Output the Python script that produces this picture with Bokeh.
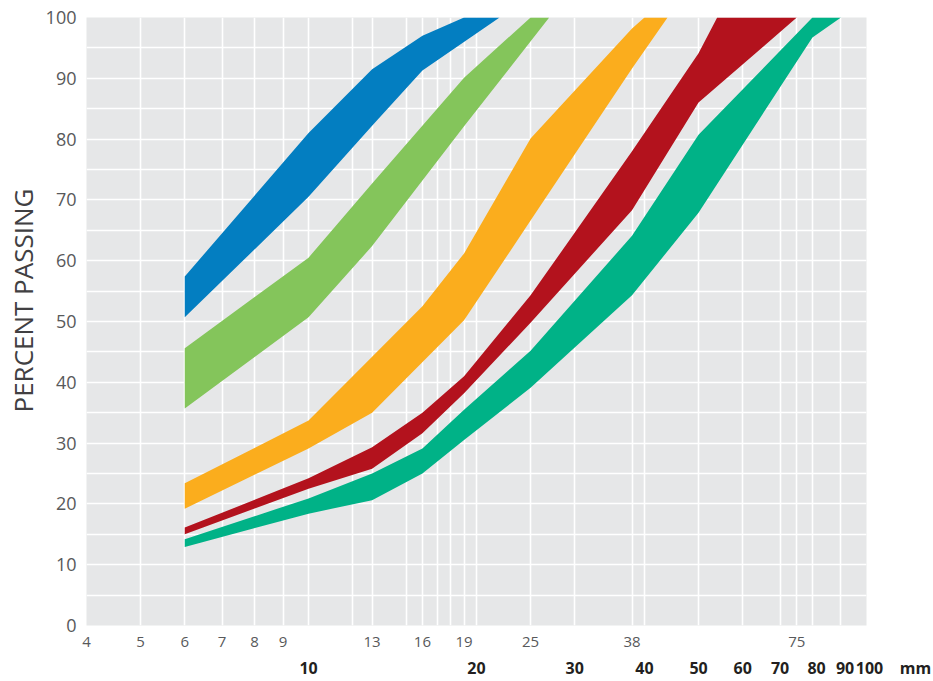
from bokeh.plotting import figure
from bokeh.models import Range1d, FixedTicker, LogAxis, PrintfTickFormatter, Title
from bokeh.embed import file_html
from bokeh.resources import INLINE

# ---- data (sieve size in mm, percent passing) ----
blue_upper_x = [6, 10, 13, 16, 19]
blue_upper_y = [57.4, 81.0, 91.5, 97.0, 100.0]
blue_lower_x = [6, 10, 13, 16, 22]
blue_lower_y = [50.7, 70.5, 82.2, 91.3, 100.0]

green_upper_x = [6, 10, 13, 19, 25]
green_upper_y = [45.6, 60.5, 72.7, 90.1, 100.0]
green_lower_x = [6, 10, 13, 19, 27]
green_lower_y = [35.7, 50.7, 62.4, 82.1, 100.0]

orange_upper_x = [6, 10, 13, 16, 19, 25, 38, 40]
orange_upper_y = [23.4, 33.7, 44.2, 52.5, 61.2, 80.1, 98.2, 100.0]
orange_lower_x = [6, 10, 13, 19, 25, 38, 44]
orange_lower_y = [19.2, 29.1, 35.0, 50.2, 66.6, 91.6, 100.0]

red_upper_x = [6, 10, 13, 16, 19, 25, 38, 50, 54]
red_upper_y = [16.1, 24.2, 29.3, 35.0, 41.0, 54.3, 78.0, 94.1, 100.0]
red_lower_x = [6, 10, 13, 16, 19, 25, 38, 50, 75]
red_lower_y = [15.0, 22.5, 25.8, 31.6, 38.2, 49.8, 68.3, 86.0, 100.0]

teal_upper_x = [6, 10, 13, 16, 19, 25, 38, 50, 80]
teal_upper_y = [14.2, 20.9, 25.0, 29.1, 35.5, 45.2, 64.1, 80.7, 100.0]
teal_lower_x = [6, 10, 13, 16, 19, 25, 38, 50, 80, 90]
teal_lower_y = [12.9, 18.4, 20.6, 25.0, 30.5, 39.1, 54.3, 67.9, 96.7, 100.0]

band_colors = ["#037EC1", "#84C55B", "#FBAD1D", "#B3121D", "#00B287"]

y_ticks = [0, 10, 20, 30, 40, 50, 60, 70, 80, 90, 100]
y_grid = [0, 5, 10, 15, 20, 25, 30, 35, 40, 45, 50, 55, 60, 65, 70, 75, 80, 85, 90, 95, 100]
x_ticks_small = [4, 5, 6, 7, 8, 9, 13, 16, 19, 25, 38, 75]
x_ticks_big = [10, 20, 30, 40, 50, 60, 70, 80, 90, 100]
x_grid = [5, 6, 7, 8, 9, 10, 12, 13, 15, 16, 17, 18, 19, 20, 25, 30, 38, 40, 50, 60, 70, 75, 80, 90]

y_title = "PERCENT PASSING"
x_unit = "mm"

SP = "\u00a0"   # no-break space (nudges a centred label sideways)


def style_axis(ax, size, color, standoff, bold=False):
    ax.axis_line_color = None
    ax.major_tick_line_color = None
    ax.minor_tick_line_color = None
    ax.major_tick_out = 0
    ax.major_tick_in = 0
    ax.major_label_standoff = standoff
    ax.major_label_text_font = "Open Sans"
    ax.major_label_text_font_size = size
    ax.major_label_text_color = color
    if bold:
        ax.major_label_text_font_style = "bold"


p = figure(width=933, height=681, x_axis_type="log",
           x_range=Range1d(4, 100), y_range=Range1d(0, 100),
           output_backend="svg", toolbar_location=None,
           min_border_left=86, min_border_right=67,
           min_border_top=17, min_border_bottom=56)
p.background_fill_color = "#E6E7E8"
p.border_fill_color = "white"
p.outline_line_color = None

p.xgrid.ticker = FixedTicker(ticks=x_grid)
p.ygrid.ticker = FixedTicker(ticks=y_grid)
for g in (p.xgrid, p.ygrid):
    g.grid_line_color = "white"
    g.grid_line_width = 1.6

bands = [
    (blue_upper_x, blue_upper_y, blue_lower_x, blue_lower_y),
    (green_upper_x, green_upper_y, green_lower_x, green_lower_y),
    (orange_upper_x, orange_upper_y, orange_lower_x, orange_lower_y),
    (red_upper_x, red_upper_y, red_lower_x, red_lower_y),
    (teal_upper_x, teal_upper_y, teal_lower_x, teal_lower_y),
]
for (ux, uy, lx, ly), c in zip(bands, band_colors):
    xs = list(ux) + list(lx)[::-1]
    ys = list(uy) + list(ly)[::-1]
    p.patch(xs, ys, fill_color=c, line_color=None)

# y axis
ya = p.yaxis[0]
ya.ticker = FixedTicker(ticks=y_ticks)
style_axis(ya, "18px", "#58595B", 10)

p.add_layout(Title(text=y_title, align="left", offset=213, standoff=4,
                   text_font="Open Sans", text_font_size="26px",
                   text_font_style="normal", text_color="#414042"), "left")

# x axis (small labels)
xa = p.xaxis[0]
xa.ticker = FixedTicker(ticks=x_ticks_small)
xa.formatter = PrintfTickFormatter(format="%d")
style_axis(xa, "15px", "#58595B", 11)

# x axis (decades, bold) with the unit after the last one
xb = LogAxis(ticker=FixedTicker(ticks=x_ticks_big), formatter=PrintfTickFormatter(format="%d"))
xb.major_label_overrides = {
    80: SP * 2 + "80",
    90: SP * 2 + "90",
    100: SP * 13 + "100" + SP * 4 + x_unit,
}
style_axis(xb, "16px", "#231F20", 7, bold=True)
p.add_layout(xb, "below")

open("out.html", "w").write(file_html(p, INLINE))
